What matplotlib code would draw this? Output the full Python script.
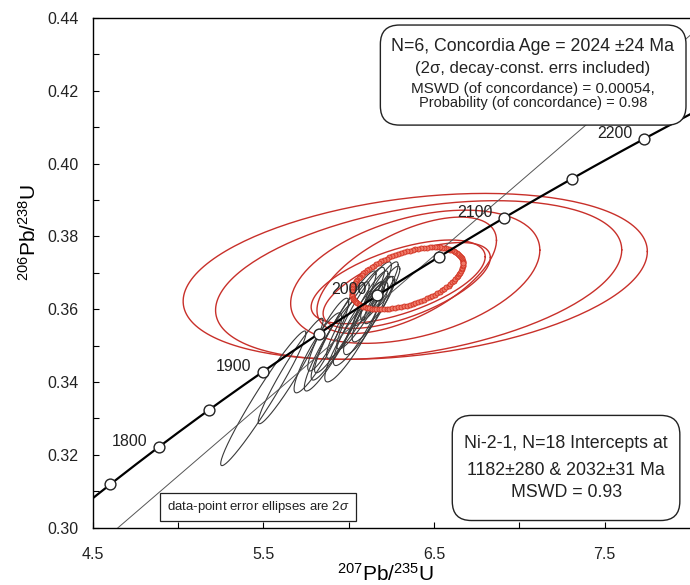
import numpy as np
import matplotlib
matplotlib.use("Agg")
import matplotlib.pyplot as plt
from matplotlib.patches import FancyBboxPatch
from matplotlib.ticker import MultipleLocator, FixedLocator, FormatStrFormatter

plt.rcParams["font.family"] = ["Liberation Sans", "DejaVu Sans"]
plt.rcParams["mathtext.fontset"] = "custom"
plt.rcParams["mathtext.rm"] = "Liberation Sans"
plt.rcParams["mathtext.it"] = "Liberation Sans:italic"
plt.rcParams["mathtext.bf"] = "Liberation Sans:bold"

# decay constants (1/yr)
L238 = 1.55125e-10
L235 = 9.8485e-10

# concordia ages (Ma)
marker_ages = [1750, 1800, 1850, 1900, 1950, 2000, 2050, 2100, 2150, 2200]
label_ages = [1800, 1900, 2000, 2100, 2200]

# axis ticks
x_labeled = [4.5, 5.5, 6.5, 7.5]
x_minor = [5.0, 6.0, 7.0]

# discordia intercepts (Ma)
lower_int = 1182
upper_int = 2032

# data-point ellipses: centre x, centre y, 2s x, 2s y, rho
pt_x = [5.50, 5.66, 5.82, 5.90, 5.95, 6.02, 5.98, 6.06, 6.04,
        6.10, 6.09, 6.14, 6.13, 6.18, 6.18, 6.22, 6.15, 5.88]
pt_y = [0.3355, 0.3430, 0.3480, 0.3500, 0.3540, 0.3520, 0.3565, 0.3560, 0.3590,
        0.3575, 0.3610, 0.3600, 0.3630, 0.3625, 0.3650, 0.3660, 0.3640, 0.3530]
pt_sx = [0.25, 0.19, 0.14, 0.16, 0.17, 0.16, 0.18, 0.15, 0.17,
         0.13, 0.16, 0.12, 0.10, 0.09, 0.11, 0.08, 0.05, 0.12]
pt_sy = [0.0185, 0.0145, 0.0110, 0.0125, 0.0135, 0.0120, 0.0140, 0.0115, 0.0125,
         0.0100, 0.0120, 0.0090, 0.0075, 0.0065, 0.0080, 0.0058, 0.0035, 0.0100]
pt_rho = [0.97, 0.96, 0.90, 0.92, 0.93, 0.90, 0.94, 0.90, 0.93,
          0.88, 0.92, 0.88, 0.90, 0.86, 0.90, 0.87, 0.80, 0.90]

# concordia-age subset ellipses (red)
cc_x = [6.39, 6.41, 6.39, 6.34, 6.34, 6.29]
cc_y = [0.3690, 0.3680, 0.3689, 0.3693, 0.3665, 0.3675]
cc_sx = [1.36, 1.19, 0.73, 0.526, 0.49, 0.51]
cc_sy = [0.0228, 0.0218, 0.0183, 0.0160, 0.0118, 0.0115]
cc_rho = [0.30, 0.38, 0.40, 0.60, 0.65, 0.60]

# concordia age ellipse
age_x, age_y, age_sx, age_sy, age_rho = 6.344, 0.3685, 0.326, 0.0085, 0.48


def conc_xy(t_ma):
    t = np.asarray(t_ma, dtype=float) * 1e6
    return np.exp(L235 * t) - 1, np.exp(L238 * t) - 1


def ellipse(cx, cy, sx, sy, rho, n=200):
    t = np.linspace(0, 2 * np.pi, n)
    ex = cx + sx * np.cos(t)
    ey = cy + sy * (rho * np.cos(t) + np.sqrt(1 - rho ** 2) * np.sin(t))
    return ex, ey


fig = plt.figure(figsize=(6.9, 5.85), dpi=100)
ax = fig.add_axes([92.7 / 690, 57.5 / 585, 597.3 / 690, 509.5 / 585])
ax.set_xlim(4.5, 8.0)
ax.set_ylim(0.30, 0.44)

# discordia
x1, y1 = conc_xy(lower_int)
x2, y2 = conc_xy(upper_int)
slope = (y2 - y1) / (x2 - x1)
dx = np.array([4.0, 8.5])
ax.plot(dx, y1 + slope * (dx - x1), color="#555555", lw=0.7, zorder=4)

# red ellipses
for cx, cy, sx, sy, r in zip(cc_x, cc_y, cc_sx, cc_sy, cc_rho):
    ex, ey = ellipse(cx, cy, sx, sy, r)
    ax.plot(ex, ey, color="#c8302a", lw=1.0, zorder=2)

# data-point ellipses
for cx, cy, sx, sy, r in zip(pt_x, pt_y, pt_sx, pt_sy, pt_rho):
    ex, ey = ellipse(cx, cy, sx, sy, r)
    ax.plot(ex, ey, color="#3a3a3a", lw=0.8, zorder=3)

# concordia age ellipse
ex, ey = ellipse(age_x, age_y, age_sx, age_sy, age_rho, n=120)
ax.plot(ex, ey, color="#d8382a", lw=1.5, marker="o", ms=3.6,
        mfc="#f07a68", mec="#d03020", mew=0.6, zorder=4)

# concordia curve
tt = np.linspace(1650, 2300, 400)
cx_, cy_ = conc_xy(tt)
ax.plot(cx_, cy_, color="black", lw=1.6, zorder=5)
mx, my = conc_xy(marker_ages)
ax.plot(mx, my, "o", ms=7.8, mfc="white", mec="#222222", mew=1.0, zorder=6)
for a in label_ages:
    lx, ly = conc_xy(a)
    ax.annotate(str(a), (lx, ly), xytext=(-8, 4), textcoords="offset points",
                ha="right", va="center", fontsize=11.5, color="#222222", zorder=7)

# axes styling
ax.spines["right"].set_visible(False)
for s in ("left", "bottom", "top"):
    ax.spines[s].set_linewidth(1.0)
ax.xaxis.set_major_locator(FixedLocator(x_labeled))
ax.xaxis.set_minor_locator(FixedLocator(x_minor))
ax.yaxis.set_major_locator(MultipleLocator(0.02))
ax.yaxis.set_minor_locator(MultipleLocator(0.01))
ax.xaxis.set_major_formatter(FormatStrFormatter("%.1f"))
ax.yaxis.set_major_formatter(FormatStrFormatter("%.2f"))
ax.tick_params(which="both", direction="in", length=4, width=0.8,
               top=False, right=False, labelsize=11.5, labelcolor="#222222")
ax.tick_params(axis="y", pad=10)
ax.tick_params(axis="x", pad=14)

ax.set_xlabel(r"$^{207}$Pb/$^{235}$U", fontsize=15)
ax.set_ylabel(r"$^{206}$Pb/$^{238}$U", fontsize=15)
ax.xaxis.set_label_coords(0.49, -0.07)
ax.yaxis.set_label_coords(-0.088, 0.58)

# boxes
asp = 597.3 / 509.5


def rbox(x0, y0, x1, y1, r):
    p = FancyBboxPatch((x0, y0), x1 - x0, y1 - y0,
                       boxstyle=f"round,pad=0,rounding_size={r}",
                       mutation_aspect=asp, transform=ax.transAxes,
                       facecolor="white", edgecolor="#222222", lw=1.0,
                       zorder=10, clip_on=False)
    ax.add_patch(p)


rbox(0.4816, 0.7898, 0.9933, 0.9862, 0.032)
tk = dict(transform=ax.transAxes, ha="center", va="baseline", zorder=11,
          color="#222222")
ax.text(0.737, 0.936, "N=6, Concordia Age = 2024 \u00b124 Ma", fontsize=12.8, **tk)
ax.text(0.737, 0.893, "(2\u03c3, decay-const. errs included)", fontsize=12, **tk)
ax.text(0.737, 0.853, "MSWD (of concordance) = 0.00054,", fontsize=11, **tk)
ax.text(0.737, 0.826, "Probability (of concordance) = 0.98", fontsize=10.5, **tk)

rbox(0.602, 0.0137, 0.983, 0.220, 0.032)
tc = dict(tk, va="center")
ax.text(0.7926, 0.165, "Ni-2-1, N=18 Intercepts at", fontsize=12.8, **tc)
ax.text(0.7926, 0.112, "1182\u00b1280 & 2032\u00b131 Ma", fontsize=12.8, **tc)
ax.text(0.7926, 0.069, "MSWD = 0.93", fontsize=12.8, **tc)

sq = FancyBboxPatch((0.112, 0.0137), 0.3295, 0.0531, boxstyle="square,pad=0",
                    transform=ax.transAxes, facecolor="white",
                    edgecolor="#222222", lw=0.9, zorder=10)
ax.add_patch(sq)
ax.text(0.277, 0.040, r"data-point error ellipses are 2$\sigma$", fontsize=9.5, **tc)

fig.savefig("out.png", dpi=100)
